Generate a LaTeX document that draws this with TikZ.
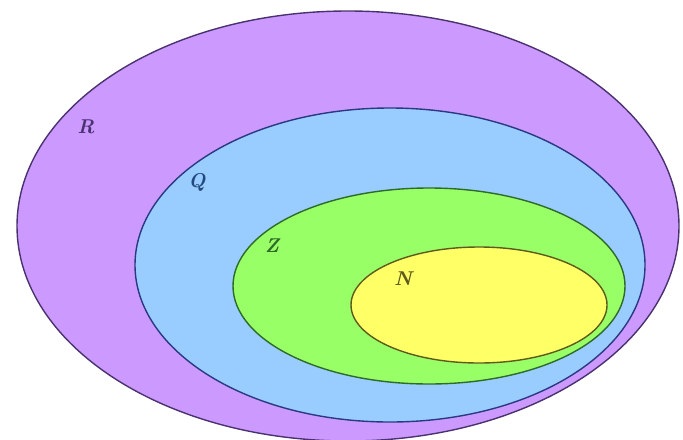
\documentclass[tikz,border=0pt]{standalone}
\usepackage{tikz}
\usepackage{xcolor}
\definecolor{setR}{HTML}{CC99FF}
\definecolor{setQ}{HTML}{99CCFF}
\definecolor{setZ}{HTML}{99FF66}
\definecolor{setN}{HTML}{FFFF66}
\definecolor{lineR}{HTML}{4A3270}
\definecolor{lineQ}{HTML}{2A3A80}
\definecolor{lineZ}{HTML}{2E6A28}
\definecolor{lineN}{HTML}{5E5A1E}

\begin{document}
\begin{tikzpicture}[x=0.5pt,y=-0.5pt,
  setline/.style={line width=0.7pt},
  setlabel/.style={font=\bfseries\itshape\normalsize,inner sep=0pt}]
\useasboundingbox (0,0) rectangle (683,439);
\draw[setline,draw=lineR,fill=setR] (348,226) ellipse (331 and 215);
\draw[setline,draw=lineQ,fill=setQ] (390,265) ellipse (255 and 157);
\draw[setline,draw=lineZ,fill=setZ] (429,286) ellipse (196 and 98);
\draw[setline,draw=lineN,fill=setN] (479,305) ellipse (128 and 58);
\node[setlabel,text=lineR] (labR) at (86,127) {R};
\node[setlabel,text=lineQ!80!teal] (labQ) at (197,182) {Q};
\node[setlabel,text=lineZ] (labZ) at (272,246) {Z};
\node[setlabel,text=lineN] (labN) at (403,279) {N};
\end{tikzpicture}
\end{document}
